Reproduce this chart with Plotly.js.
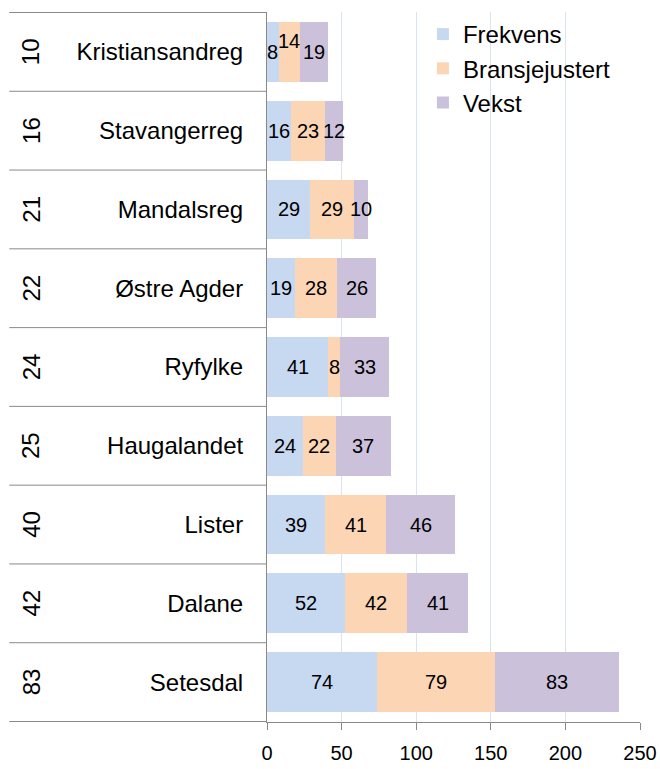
<!DOCTYPE html>
<html>
<head>
<meta charset="utf-8">
<script src="https://cdn.plot.ly/plotly-3.0.1.min.js"></script>
<style>html,body{margin:0;padding:0;background:#fff;}#chart{width:660px;height:769px;}</style>
</head>
<body>
<div id="chart"></div>
<script>
const regions = ["Kristiansandreg","Stavangerreg","Mandalsreg","Østre Agder","Ryfylke","Haugalandet","Lister","Dalane","Setesdal"];
const ranks = ["10","16","21","22","24","25","40","42","83"];
const frekvens = [8,16,29,19,41,24,39,52,74];
const bransjejustert = [14,23,29,28,8,22,41,42,79];
const vekst = [19,12,10,26,33,37,46,41,83];
const seriesNames = ["Frekvens","Bransjejustert","Vekst"];
const seriesColors = ["#c6d9f1","#fcd5b5","#ccc1da"];
const xTicks = [0,50,100,150,200,250];

const FONT = "Liberation Sans, Arial, sans-serif";
const LINE = "#898989";
const series = [frekvens, bransjejustert, vekst];

const traces = series.map((vals, k) => ({
  type: "bar",
  orientation: "h",
  name: seriesNames[k],
  x: vals,
  y: regions,
  marker: {color: seriesColors[k], line: {width: 0}},
  hoverinfo: "x+name"
}));

const annotations = [];
// data labels centred in each segment
regions.forEach((r, i) => {
  let start = 0;
  series.forEach((vals, k) => {
    const v = vals[i];
    // Excel lifted the cramped middle label of the first row
    const shift = (i === 0 && k === 1) ? 11 : 0;
    annotations.push({
      x: start + v / 2, y: r, xref: "x", yref: "y",
      xanchor: "center", yanchor: "middle",
      text: String(v), showarrow: false, yshift: shift,
      font: {family: FONT, size: 20, color: "#000"}
    });
    start += v;
  });
  // rank labels in the left column
  annotations.push({
    x: -0.632, y: r, xref: "paper", yref: "y",
    xanchor: "center", yanchor: "middle",
    text: ranks[i], showarrow: false, textangle: -90,
    font: {family: FONT, size: 24, color: "#000"}
  });
});

// row separators of the category table
const shapes = [];
for (let i = 0; i <= regions.length; i++) {
  shapes.push({
    type: "line", xref: "paper", yref: "y",
    x0: -0.691, x1: 0, y0: i - 0.5, y1: i - 0.5,
    line: {color: LINE, width: 1}, layer: "above"
  });
}

const layout = {
  width: 660, height: 769,
  margin: {l: 267, r: 20, t: 12, b: 47},
  paper_bgcolor: "#fff", plot_bgcolor: "#fff",
  font: {family: FONT, color: "#000"},
  barmode: "stack",
  bargap: 0.24,
  showlegend: true,
  legend: {
    x: 0.418, y: 1, xanchor: "left", yanchor: "top",
    bgcolor: "rgba(0,0,0,0)", traceorder: "normal",
    font: {family: FONT, size: 24, color: "#000"}
  },
  xaxis: {
    range: [0, 250], tickvals: xTicks, ticktext: xTicks.map(String),
    ticks: "outside", ticklen: 7, tickcolor: LINE, tickwidth: 1,
    showline: true, linecolor: LINE, linewidth: 1,
    showgrid: true, gridcolor: "#dae3f0", gridwidth: 1, zeroline: false,
    tickfont: {family: FONT, size: 20, color: "#000"},
    ticklabelstandoff: 6, fixedrange: true
  },
  yaxis: {
    type: "category", categoryorder: "array", categoryarray: regions,
    autorange: "reversed",
    ticks: "", showline: true, linecolor: LINE, linewidth: 1,
    showgrid: false, zeroline: false,
    tickfont: {family: FONT, size: 24, color: "#000"},
    ticklabelstandoff: 18, fixedrange: true
  },
  annotations: annotations,
  shapes: shapes
};

Plotly.newPlot("chart", traces, layout, {displayModeBar: false, staticPlot: true});
</script>
</body>
</html>
